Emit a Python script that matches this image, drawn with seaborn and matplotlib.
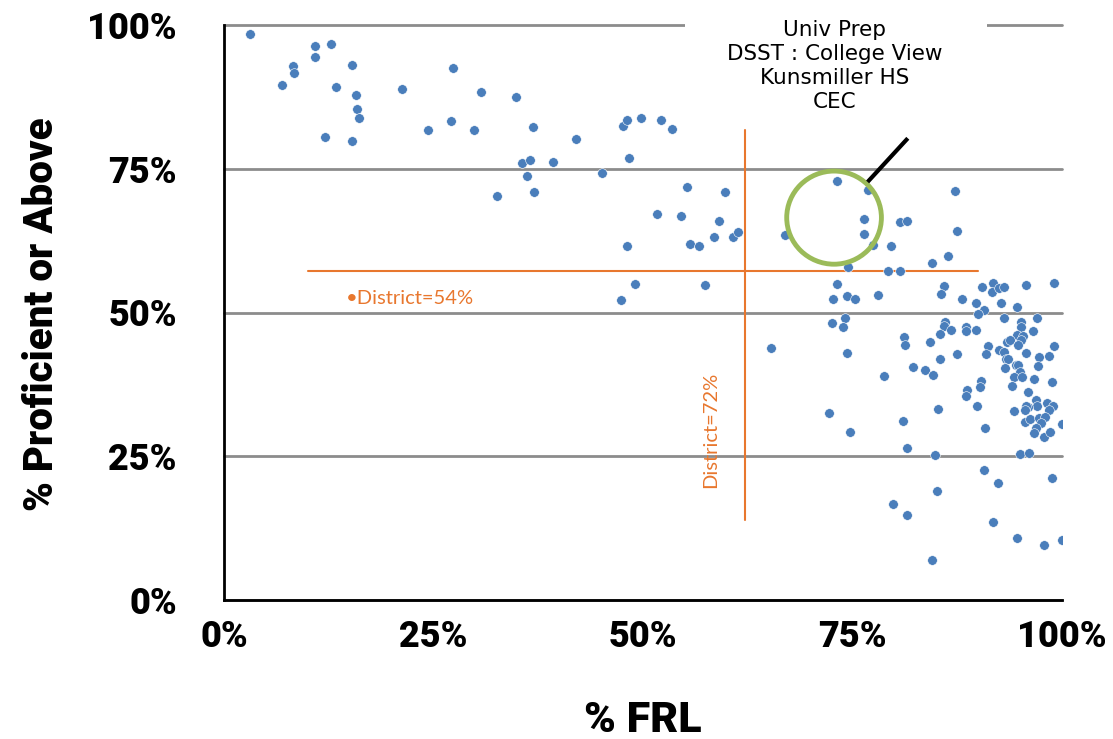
import matplotlib
matplotlib.use("Agg")
import matplotlib.pyplot as plt
from matplotlib.patches import Ellipse, Rectangle
import pandas as pd
import seaborn as sns

# % FRL (x) and % proficient or above (y), one entry per school
frl = [3.1, 10.8, 12.8, 10.8, 8.2, 8.3, 15.3, 6.9, 13.4, 15.8, 15.9, 16.1, 12.1, 15.3,
       21.2, 27.3, 30.7, 34.8, 24.4, 27.1, 29.8, 36.9, 35.6, 36.5, 36.2, 32.6, 37.0,
       39.3, 42.0, 45.1, 47.6, 48.1, 49.8, 52.2, 53.5, 48.3, 55.2, 59.8, 51.7, 54.5,
       59.1, 48.1, 55.6, 56.7, 58.5, 60.7, 61.3, 67.0, 73.2, 49.0, 57.4, 47.4, 73.1, 72.7,
       76.8, 76.4, 76.4, 77.5, 79.6, 80.7, 81.5, 87.2, 87.5, 86.4, 84.5, 74.5, 79.2, 80.7,
       74.4, 75.3, 78.1, 85.9, 85.6, 88.1, 89.7, 90.5, 91.8, 91.7, 92.5, 93.1, 95.7, 99.0,
       92.7, 94.6, 90.7, 90.0, 93.1, 97.0, 95.1, 95.1, 96.5, 72.6, 74.1, 73.9, 86.0, 85.9,
       86.7, 85.4, 88.5, 88.5, 89.7, 84.2, 81.2, 81.3,
       94.6, 95.3, 95.1, 93.4, 93.8, 94.8, 91.2, 92.5, 93.1, 90.9, 95.7, 99.0, 97.2, 98.4,
       93.3, 93.6, 87.5, 85.4, 74.4, 82.2, 83.7, 84.6, 78.8, 93.2, 94.5, 94.8, 97.1, 95.0,
       94.3, 95.2, 96.6, 98.8, 90.3, 90.2, 94.0, 88.7, 88.5, 95.9, 96.9, 98.2, 98.9, 98.4,
       97.0, 96.0, 95.7, 95.6, 94.3, 89.8, 85.2, 72.2, 81.0, 95.6, 96.2, 97.3, 98.0, 97.5,
       100.0, 96.9, 96.6, 97.8, 98.6, 90.8, 74.7, 81.5, 84.9, 95.0, 96.1, 90.7, 98.8,
       92.4, 85.1, 79.8, 81.5, 91.8, 94.6, 97.8, 100.0, 84.5, 65.3]
prof = [98.5, 96.3, 96.7, 94.5, 92.9, 91.7, 93.0, 89.5, 89.2, 87.9, 85.4, 83.9, 80.6, 79.9,
        88.8, 92.5, 88.4, 87.5, 81.7, 83.3, 81.7, 82.2, 76.0, 76.5, 73.8, 70.2, 70.9,
        76.2, 80.1, 74.3, 82.5, 83.5, 83.9, 83.4, 82.0, 76.8, 71.8, 70.9, 67.1, 66.7,
        66.0, 61.6, 62.0, 61.6, 63.1, 63.1, 64.0, 63.4, 72.9, 55.0, 54.8, 52.1, 54.9, 52.3,
        71.3, 66.3, 63.7, 61.7, 61.5, 65.7, 66.0, 71.1, 64.1, 59.9, 58.6, 58.0, 57.2, 57.2,
        52.8, 52.4, 53.0, 54.6, 53.3, 52.3, 51.7, 54.5, 55.2, 53.6, 54.2, 54.4, 54.8, 55.1,
        51.7, 50.9, 50.4, 49.8, 49.0, 49.0, 48.3, 47.5, 46.8, 48.1, 49.1, 47.5, 48.3, 47.7,
        46.9, 46.3, 47.5, 46.7, 46.9, 44.9, 45.7, 44.4,
        46.1, 45.9, 45.3, 44.8, 45.2, 44.3, 44.1, 43.4, 43.2, 42.7, 42.9, 44.1, 42.2, 42.4,
        41.9, 42.0, 42.7, 42.0, 43.0, 40.6, 40.0, 39.2, 39.0, 40.3, 40.9, 40.9, 40.7, 39.6,
        38.7, 38.8, 38.4, 37.9, 38.1, 37.1, 37.3, 36.6, 35.5, 36.1, 34.8, 34.3, 33.7, 33.0,
        33.7, 33.6, 33.7, 33.0, 32.9, 33.8, 33.3, 32.6, 31.1, 31.0, 31.4, 31.6, 31.8, 30.7,
        30.6, 29.9, 29.0, 28.4, 29.2, 30.0, 29.2, 26.4, 25.3, 25.4, 25.6, 22.6, 21.2,
        20.3, 18.9, 16.7, 14.7, 13.5, 10.7, 9.5, 10.4, 7.0, 43.9]

ticks = [0, 25, 50, 75, 100]
tick_labels = ["0%", "25%", "50%", "75%", "100%"]

# district reference lines as drawn on the chart
district_prof_line = 57.2
district_prof_span = (10, 90)
district_frl_line = 62.2
district_frl_span = (14, 81.7)

schools = ["Univ Prep", "DSST : College View", "Kunsmiller HS", "CEC"]

BLUE = "#4A7EBB"
ORANGE = "#E8772E"
GREEN = "#9BBB59"
GRID = "#8C8C8C"

sns.set_style("white")
plt.rcParams["font.family"] = ["DejaVu Sans"]

df = pd.DataFrame({"frl": frl, "prof": prof})

fig = plt.figure(figsize=(11.13, 7.39), dpi=100)
ax = fig.add_axes([224 / 1113, 1 - 600 / 739, 838 / 1113, 575 / 739])

sns.scatterplot(data=df, x="frl", y="prof", ax=ax, color=BLUE, s=48,
                edgecolor="white", linewidth=0.4, zorder=4, legend=False)

ax.set_xlim(0, 100)
ax.set_ylim(0, 100)
ax.set_xticks(ticks)
ax.set_yticks(ticks)
bold = dict(family="Roboto", weight="black", size=26, color="black")
ax.set_xticklabels(tick_labels, fontdict=bold)
ax.set_yticklabels(tick_labels, fontdict=bold)
ax.set_xlabel("")
ax.set_ylabel("")

ax.yaxis.grid(True, color=GRID, linewidth=2)
ax.xaxis.grid(False)
for gl in ax.get_ygridlines():
    gl.set_clip_on(False)
ax.set_axisbelow(True)

for side in ["top", "right"]:
    ax.spines[side].set_visible(False)
for side in ["left", "bottom"]:
    ax.spines[side].set_color("black")
    ax.spines[side].set_linewidth(2)
ax.tick_params(axis="y", length=6, width=1.5, color="black", direction="out", pad=28)
ax.tick_params(axis="x", length=0, pad=14)

# district lines and labels
ax.plot(list(district_prof_span), [district_prof_line] * 2, color=ORANGE, lw=1.5, zorder=3)
ax.plot([district_frl_line] * 2, list(district_frl_span), color=ORANGE, lw=1.5, zorder=3)
ax.text(14.6, 52.4, "\u2022District=54%", color=ORANGE, fontsize=14.5,
        family=["Lato", "DejaVu Sans"], ha="left", va="center", zorder=5)
ax.text(58.1, 29.6, "District=72%", color=ORANGE, fontsize=14.5,
        family=["Lato", "DejaVu Sans"], rotation=90, ha="center", va="center", zorder=5)

# highlighted group and callout
ax.add_patch(Ellipse((72.8, 66.5), 11.3, 16.2, fill=False, edgecolor=GREEN, lw=3.5, zorder=5))
ax.plot([76.8, 81.6], [72.7, 80.3], color="black", lw=3, solid_capstyle="butt", zorder=5)
ax.add_patch(Rectangle((55.0, 97.5), 36.0, 4.5, facecolor="white", edgecolor="none",
                       clip_on=False, zorder=2))
ax.text(72.9, 92.9, "\n".join(schools), ha="center", va="center", fontsize=15.5,
        linespacing=1.24, color="black", zorder=6)

fig.text(643 / 1113, 1 - 732 / 739, "% FRL", family="Roboto", weight="black", size=31,
         ha="center", va="baseline", color="black")
fig.text(42 / 1113, 1 - 314 / 739, "% Proficient or Above", family="Roboto", weight="black",
         size=29, rotation=90, ha="center", va="center", color="black")

fig.savefig("out.png", dpi=100)
plt.close(fig)
